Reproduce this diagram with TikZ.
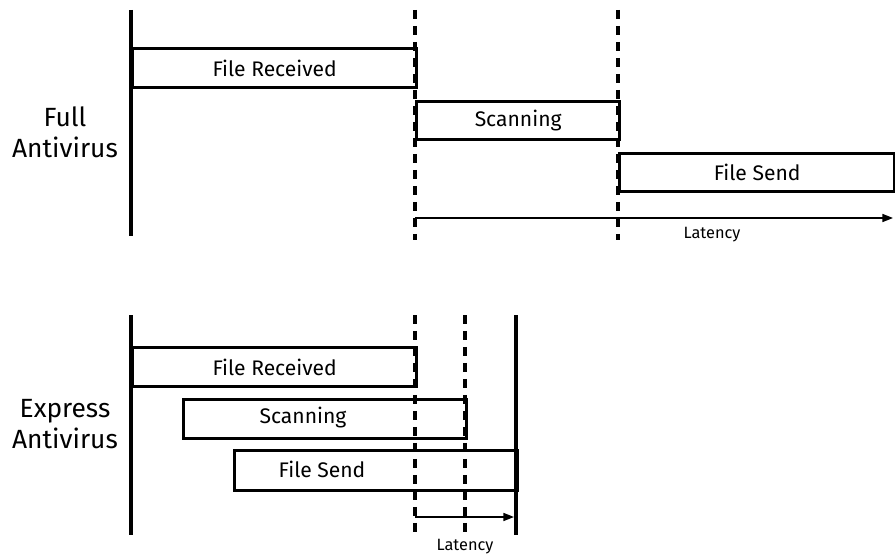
\documentclass[tikz,border=0pt]{standalone}
\usepackage{fontspec}
\setmainfont{Fira Sans}
\usetikzlibrary{arrows.meta,positioning}

\begin{document}
\begin{tikzpicture}[
    x=0.02cm, y=-0.02cm,
    axis/.style={line width=1.9pt},
    cut/.style={line width=1.9pt, dash pattern=on 0.18cm off 0.14cm},
    stage/.style={draw, line width=1.9pt, anchor=north west, inner sep=0, minimum height=0.78cm, font=\fontsize{12}{14}\selectfont},
    stagetxt/.style={font=\fontsize{12}{14}\selectfont},
    latency/.style={line width=1pt, -{Triangle[length=6pt,width=4.5pt]}},
    lbl/.style={align=center, font=\fontsize{15}{17.5}\selectfont},
    small/.style={font=\fontsize{9.3}{11}\selectfont}
]
\useasboundingbox (0,0) rectangle (895,557);

% full antivirus
\coordinate (f0a) at (131,10);  \coordinate (f0b) at (131,236);
\coordinate (f1a) at (415,10);  \coordinate (f1b) at (415,240);
\coordinate (f2a) at (618,10);  \coordinate (f2b) at (618,240);
\draw[axis] (f0a) -- (f0b);
\draw[cut] (f1a) -- (f1b);
\draw[cut] (f2a) -- (f2b);

\node[stage, minimum width=5.68cm] (frecv) at (131,47) {File Received};
\node[stage, minimum width=4.06cm, minimum height=0.76cm] (fscan) at (415,100) {Scanning};
\node[stage, minimum width=5.5cm, minimum height=0.76cm] (fsend) at (618,152) {File Send};

\coordinate (fend) at (893,218);
\draw[latency] (f1a |- fend) -- (fend);
\node[small] (flat) at (712,235) {Latency};
\node[lbl] (fname) at (65,132) {Full\\Antivirus};

% express antivirus
\coordinate (e0a) at (131,315); \coordinate (e0b) at (131,535);
\coordinate (e1a) at (415,315); \coordinate (e1b) at (415,537);
\coordinate (e2a) at (465,315); \coordinate (e2b) at (465,537);
\coordinate (e3a) at (516,315); \coordinate (e3b) at (516,535);
\draw[axis] (e0a) -- (e0b);
\draw[cut] (e1a) -- (e1b);
\draw[cut] (e2a) -- (e2b);
\draw[axis] (e3a) -- (e3b);

\node[stage, minimum width=5.68cm] (erecv) at (131,346) {File Received};
\node[stage, minimum width=5.66cm] (escan) at (182,398) {};
\node[stage, minimum width=5.66cm, minimum height=0.8cm] (esend) at (233,449) {};
\node[stagetxt] (escantxt) at (303,418) {Scanning};
\node[stagetxt] (esendtxt) at (322,469) {File Send};

\coordinate (eend) at (514,517);
\draw[latency] (e1a |- eend) -- (eend);
\node[small] (elat) at (465,547) {Latency};
\node[lbl] (ename) at (65,424) {Express\\Antivirus};
\end{tikzpicture}
\end{document}
